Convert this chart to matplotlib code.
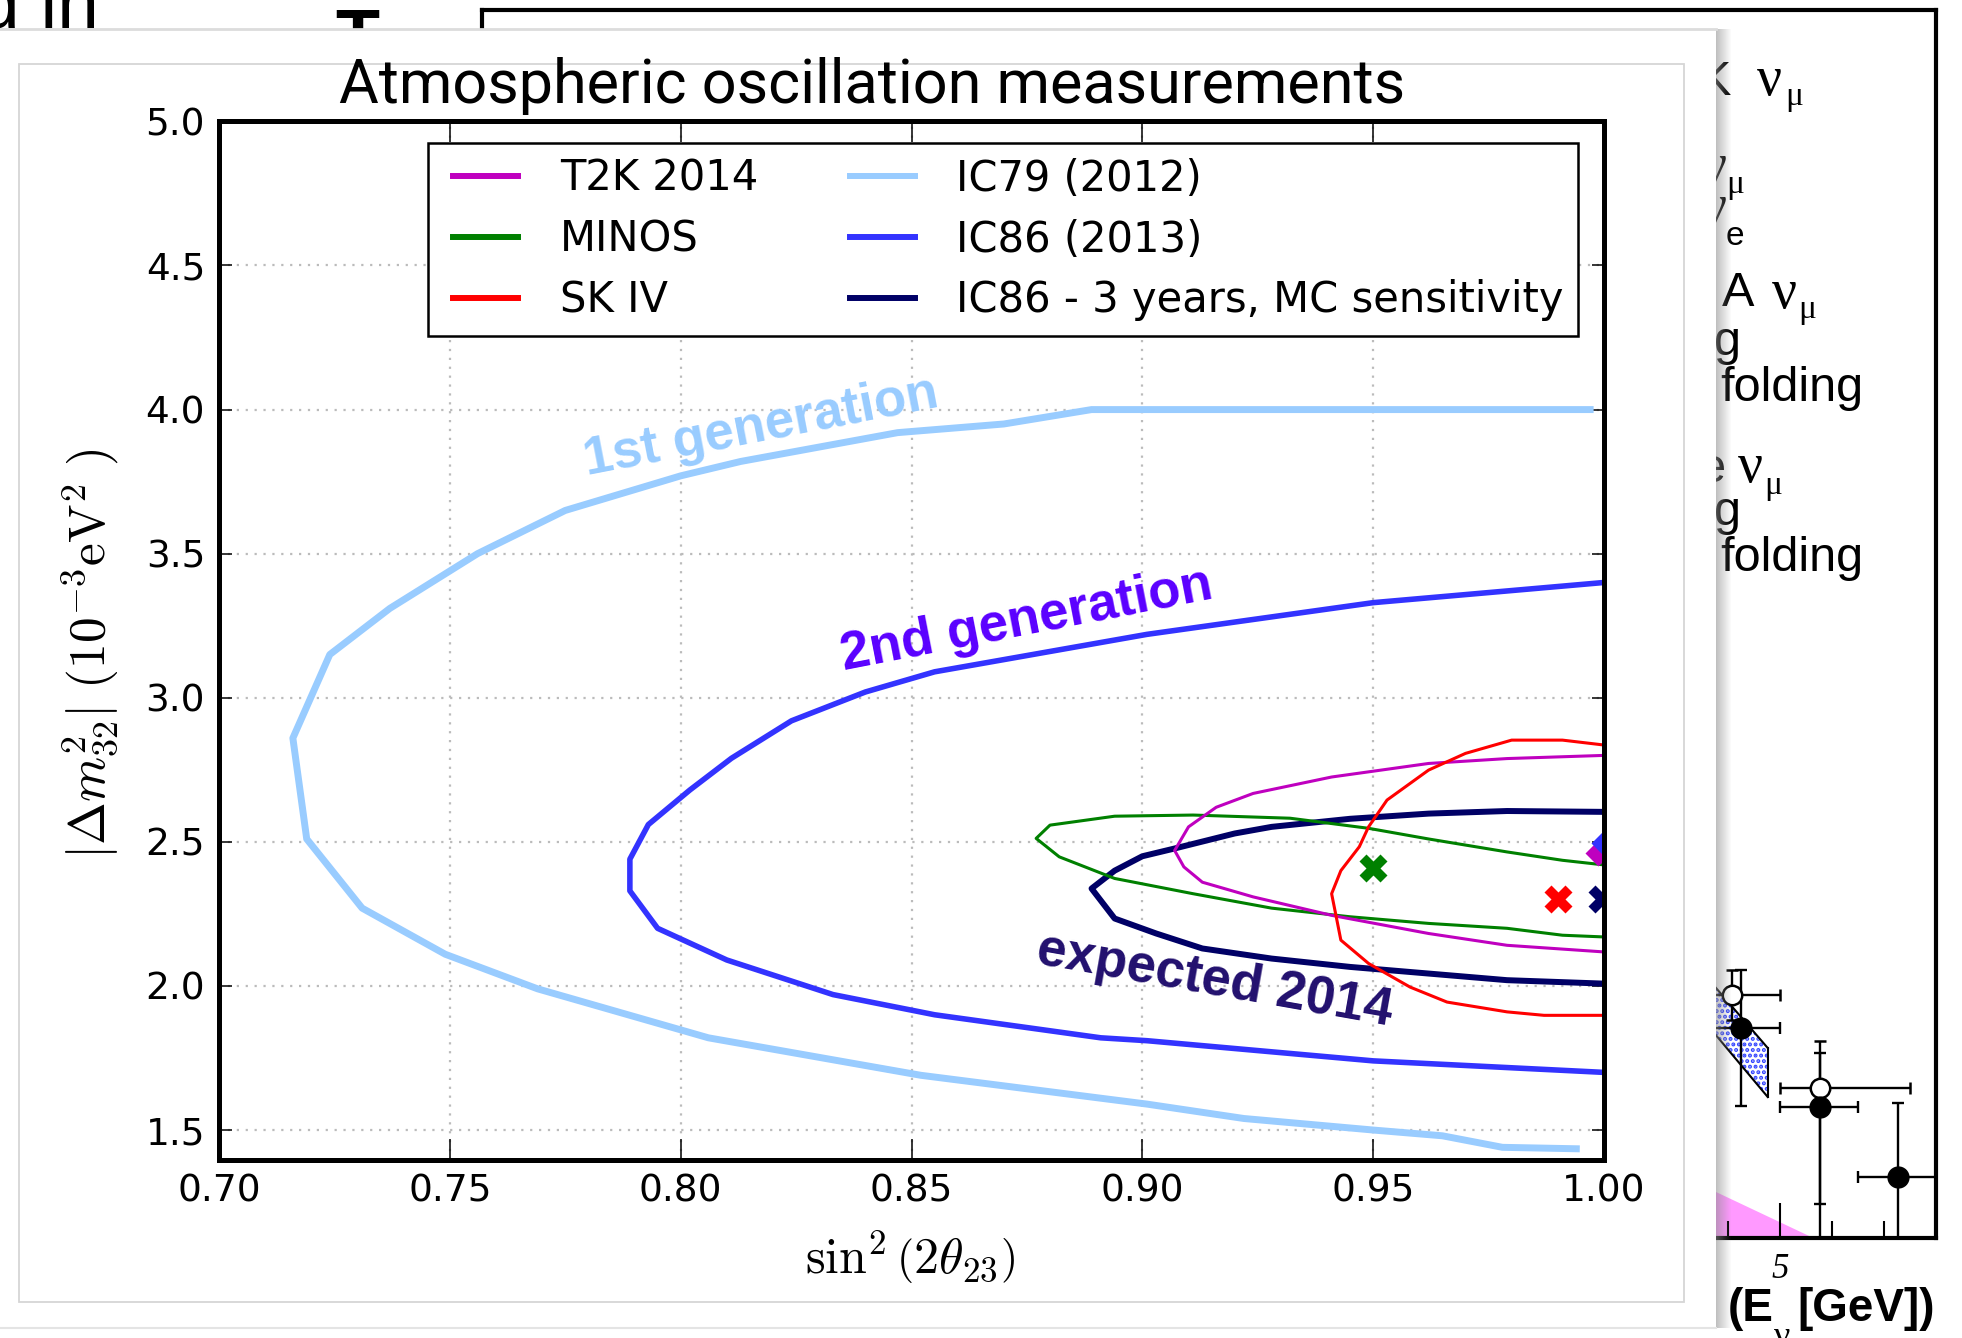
import numpy as np
import matplotlib
matplotlib.use('Agg')
import matplotlib.pyplot as plt
from matplotlib.lines import Line2D
from matplotlib.patches import Rectangle
from matplotlib.legend_handler import HandlerLine2D
from matplotlib.ticker import MultipleLocator, FormatStrFormatter, FuncFormatter

plt.rcParams['font.family'] = 'DejaVu Sans'
plt.rcParams['mathtext.fontset'] = 'cm'
plt.rcParams['hatch.linewidth'] = 2.0

W, H = 1962, 1338          # canvas size in pixels (dpi 100)

# ── allowed regions: x = sin^2(2 theta_23), y = |dm^2_32| [1e-3 eV^2] ──
ic79_x = [0.997, 0.889, 0.870, 0.847, 0.813, 0.800, 0.775, 0.756, 0.737, 0.724,
          0.716, 0.719, 0.731, 0.749, 0.769, 0.806, 0.852, 0.901, 0.922, 0.950,
          0.965, 0.978, 0.994]
ic79_y = [4.00, 4.00, 3.95, 3.92, 3.82, 3.77, 3.65, 3.50, 3.31, 3.15,
          2.86, 2.51, 2.27, 2.11, 1.99, 1.82, 1.69, 1.59, 1.54, 1.50,
          1.48, 1.44, 1.435]

ic86_x = [1.000, 0.950, 0.901, 0.855, 0.840, 0.824, 0.811, 0.802, 0.793, 0.789,
          0.789, 0.789, 0.795, 0.810, 0.833, 0.855, 0.891, 0.901, 0.950, 1.000]
ic86_y = [3.40, 3.33, 3.22, 3.09, 3.02, 2.92, 2.79, 2.68, 2.56, 2.44,
          2.39, 2.33, 2.20, 2.09, 1.97, 1.90, 1.82, 1.81, 1.74, 1.70]

ic3yr_x = [1.000, 0.979, 0.962, 0.945, 0.928, 0.920, 0.907, 0.900, 0.894, 0.889,
           0.894, 0.903, 0.913, 0.928, 0.945, 0.962, 0.979, 1.000]
ic3yr_y = [2.604, 2.607, 2.598, 2.580, 2.552, 2.529, 2.477, 2.450, 2.400, 2.338,
           2.234, 2.182, 2.130, 2.095, 2.066, 2.043, 2.020, 2.008]

t2k_x = [1.000, 0.979, 0.962, 0.941, 0.924, 0.916, 0.910, 0.907, 0.909, 0.913,
         0.924, 0.941, 0.962, 0.979, 1.000]
t2k_y = [2.800, 2.789, 2.772, 2.725, 2.668, 2.620, 2.552, 2.470, 2.413, 2.360,
         2.309, 2.245, 2.182, 2.141, 2.118]

minos_x = [1.000, 0.991, 0.979, 0.962, 0.949, 0.932, 0.911, 0.894, 0.880, 0.877,
           0.882, 0.894, 0.911, 0.928, 0.945, 0.962, 0.979, 0.991, 1.000]
minos_y = [2.420, 2.436, 2.465, 2.510, 2.547, 2.582, 2.593, 2.589, 2.558, 2.512,
           2.448, 2.373, 2.320, 2.270, 2.240, 2.217, 2.200, 2.176, 2.170]

sk_x = [1.000, 0.991, 0.980, 0.970, 0.962, 0.953, 0.949, 0.947, 0.943, 0.941,
        0.942, 0.943, 0.949, 0.958, 0.966, 0.979, 0.987, 1.000]
sk_y = [2.836, 2.853, 2.853, 2.807, 2.749, 2.645, 2.552, 2.483, 2.400, 2.320,
        2.240, 2.159, 2.078, 1.996, 1.944, 1.910, 1.898, 1.898]

# best-fit points
minos_bf = (0.950, 2.41)
sk_bf = (0.990, 2.30)
ic3yr_bf = (0.9995, 2.30)
t2k_bf = (0.9987, 2.46)
ic86_bf = (1.000, 2.495)

legend_labels = ['T2K 2014', 'MINOS', 'SK IV',
                 'IC79 (2012)', 'IC86 (2013)', 'IC86 - 3 years, MC sensitivity']
legend_colors = ['#bf00bf', 'green', 'red', '#99ccff', '#3333ff', '#000066']

# ── energy spectrum panel behind (x in GeV-ish units, y arbitrary) ──
ev_open_x = [4.08, 5.76]
ev_open_y = [2.43, 1.50]
ev_open_xerr = [[0.92, 0.76], [0.92, 1.73]]
ev_open_yerr = [[0.25, 1.60], [0.25, 0.47]]

ev_fill_x = [4.24, 5.76, 7.26]
ev_fill_y = [2.10, 1.31, 0.61]
ev_fill_xerr = [[0.76, 0.76, 0.76], [0.76, 0.74, 0.76]]
ev_fill_yerr = [[0.78, 0.97, 0.74], [0.58, 0.54, 0.74]]

band_x = [3.0, 4.76]
band_hi = [2.96, 1.90]
band_lo = [2.50, 1.41]

pink_x = [3.0, 5.65]
pink_y = [0.65, 0.0]


def fig_xy(fx, fy):
    return fx / W, 1 - fy / H


class InsetLine(HandlerLine2D):
    """Legend line that leaves a small gap at the left of the handle box."""
    def get_xdata(self, legend, xdescent, ydescent, width, height, fontsize):
        x0 = -xdescent + 0.25 * fontsize
        return np.array([x0, -xdescent + width]), np.array([x0 + 0.5 * width])


fig = plt.figure(figsize=(W / 100, H / 100), dpi=100)

# ── background spectrum panel ──
ax_ev = fig.add_axes([482 / W, 1 - 1238 / H, 1454 / W, 1228 / H], zorder=1)
ax_ev.fill_between(pink_x, 0, pink_y, color='#ff99ff', lw=0)
ax_ev.fill_between(band_x, band_lo, band_hi, facecolor='white',
                   edgecolor='#3344ff', hatch='...', lw=0)
ax_ev.plot(band_x, band_hi, color='black', lw=1.5)
ax_ev.plot(band_x, band_lo, color='black', lw=1.5)
ax_ev.plot([band_x[1], band_x[1]], [band_lo[1], band_hi[1]], color='black', lw=1.5)
ax_ev.errorbar(ev_open_x, ev_open_y, xerr=ev_open_xerr, yerr=ev_open_yerr,
               fmt='o', mfc='white', mec='black', mew=1.8, ms=14,
               ecolor='black', elinewidth=1.7, capsize=4, capthick=1.7)
ax_ev.errorbar(ev_fill_x, ev_fill_y, xerr=ev_fill_xerr, yerr=ev_fill_yerr,
               fmt='o', color='black', ms=15,
               ecolor='black', elinewidth=1.7, capsize=4, capthick=1.7)
ax_ev.set_xlim(-20, 8)
ax_ev.set_ylim(0, 12.28)
for s in ax_ev.spines.values():
    s.set_linewidth(3.0)
ax_ev.xaxis.set_major_locator(MultipleLocator(5))
ax_ev.xaxis.set_minor_locator(MultipleLocator(1))
ax_ev.xaxis.set_major_formatter(FuncFormatter(lambda v, p: f'{v:.0f}'))
ax_ev.tick_params(axis='x', which='major', direction='in', length=25, width=1.5,
                  pad=11, labelsize=25)
ax_ev.tick_params(axis='x', which='minor', direction='in', length=12, width=1.5)
ax_ev.tick_params(axis='y', left=False, labelleft=False)
for lab in ax_ev.get_xticklabels():
    lab.set_family('Liberation Serif')
    lab.set_style('italic')

# legend lines of the spectrum panel (mostly hidden by the slide on top)
sans, serif = 'Liberation Sans', 'Liberation Serif'
bg_texts = [('K', 1699, 95, 35, sans, 'normal'), ('ν', 1757, 95, 40, serif, 'normal'),
            ('μ', 1785, 105, 24, serif, 'normal'),
            ('ν', 1702, 182, 40, serif, 'normal'), ('μ', 1726, 193, 24, serif, 'normal'),
            ('ν', 1702, 223, 40, serif, 'normal'), ('e', 1726, 245, 24, sans, 'normal'),
            ('A', 1722, 306, 35, sans, 'normal'), ('ν', 1772, 308, 40, serif, 'normal'),
            ('μ', 1798, 318, 24, serif, 'normal'),
            ('g', 1714, 355, 35, sans, 'normal'), ('folding', 1720, 401, 35, sans, 'normal'),
            ('e', 1699, 482, 35, sans, 'normal'), ('ν', 1738, 482, 40, serif, 'normal'),
            ('μ', 1764, 494, 24, serif, 'normal'),
            ('g', 1714, 525, 35, sans, 'normal'), ('folding', 1720, 571, 35, sans, 'normal'),
            ('(E', 1728, 1321, 33, sans, 'bold'), ('ν', 1774, 1346, 26, serif, 'normal'),
            ('d in', -22, 27, 54, sans, 'normal'), ('T', 335, 60, 52, sans, 'bold')]
for s, fx, fy, size, fam, wt in bg_texts:
    ax_ev.text(*fig_xy(fx, fy), s, family=fam, fontsize=size, weight=wt,
               color='black', va='baseline', transform=fig.transFigure)
ax_ev.text(*fig_xy(1935, 1321), '[GeV])', family=sans, weight='bold',
           fontsize=33, ha='right', va='baseline', transform=fig.transFigure)

# ── slide image laid over it ──
ax_over = fig.add_axes([0, 0, 1, 1], zorder=2)
ax_over.add_patch(Rectangle((0, 29), 1716, 1299, facecolor='white', edgecolor='none'))
ax_over.plot([0, 1716], [29, 29], color='#dcdcdc', lw=2)
ax_over.plot([0, 1716], [1328, 1328], color='#e4e4e4', lw=1.5)
shade = np.zeros((1, 16, 4))
shade[..., :3] = 0.55
shade[..., 3] = np.linspace(0.55, 0.0, 16)
ax_over.imshow(shade, extent=[1716, 1732, 1328, 29], aspect='auto',
               interpolation='bilinear')
ax_over.add_patch(Rectangle((19, 64), 1665, 1238, facecolor='white',
                            edgecolor='#d6d6d6', lw=1.3))
ax_over.set_xlim(0, W)
ax_over.set_ylim(H, 0)
ax_over.axis('off')

# ── main oscillation plot ──
ax = fig.add_axes([219 / W, 1 - 1160 / H, 1385 / W, 1038.6 / H], zorder=3)
ax.plot(ic79_x, ic79_y, color=legend_colors[3], lw=5.0)
ax.plot(ic86_x, ic86_y, color=legend_colors[4], lw=4.0)
ax.plot(ic3yr_x, ic3yr_y, color=legend_colors[5], lw=4.3)
ax.plot(minos_x, minos_y, color=legend_colors[1], lw=2.2)
ax.plot(t2k_x, t2k_y, color=legend_colors[0], lw=2.2)
ax.plot(sk_x, sk_y, color=legend_colors[2], lw=2.2)

ax.plot(*minos_bf, 'X', color=legend_colors[1], ms=20, mec='none')
ax.plot(*sk_bf, 'X', color=legend_colors[2], ms=20, mec='none')
ax.plot(*ic3yr_bf, 'X', color=legend_colors[5], ms=20, mec='none')
ax.plot(*t2k_bf, 'D', color=legend_colors[0], ms=13, mec='none')
ax.plot(*ic86_bf, 'D', color=legend_colors[4], ms=13, mec='none')

note = dict(fontsize=38, family=sans, weight='bold', ha='center', va='center',
            rotation_mode='anchor')
ax.text(0.8173, 3.94, '1st generation', rotation=11, color='#99ccff', **note)
ax.text(0.875, 3.27, '2nd generation', rotation=11, color='#5a00ff', **note)
ax.text(0.9157, 2.017, 'expected 2014', rotation=-10, color='#22106e', **note)

ax.set_xlim(0.70, 1.00)
ax.set_ylim(1.396, 5.0)
ax.xaxis.set_major_locator(MultipleLocator(0.05))
ax.yaxis.set_major_locator(MultipleLocator(0.5))
ax.xaxis.set_major_formatter(FormatStrFormatter('%.2f'))
ax.yaxis.set_major_formatter(FormatStrFormatter('%.1f'))
ax.grid(True, color='#bbbbbb', linestyle=(0, (1, 3)), lw=1.6)
ax.set_axisbelow(True)
for s in ax.spines.values():
    s.set_linewidth(3.6)
ax.tick_params(axis='both', direction='in', top=True, right=True,
               labelsize=27, pad=10, width=1.1)
ax.tick_params(axis='x', length=15)
ax.tick_params(axis='y', length=9)

ax.set_xlabel(r'$\sin^2\left(2\theta_{23}\right)$', fontsize=36)
ax.xaxis.set_label_coords(0.499, -0.066)
ax.set_ylabel(r'$|\Delta m^2_{32}|\ (10^{-3}\mathrm{eV}^2\ )$', fontsize=37)
ax.yaxis.set_label_coords(-0.071, 0.487)

handles = [Line2D([], [], color=c, lw=4.3) for c in legend_colors]
leg = ax.legend(handles, legend_labels, ncol=2, loc='upper left',
                bbox_to_anchor=(0.151, 0.979), borderaxespad=0, fontsize=30,
                handlelength=1.81, handletextpad=1.0, columnspacing=1.95,
                labelspacing=0.45, borderpad=0.35, fancybox=False, framealpha=1,
                handler_map={Line2D: InsetLine()})
leg.get_frame().set_edgecolor('black')
leg.get_frame().set_linewidth(1.8)

fig.text(872 / W, 1 - 103 / H, 'Atmospheric oscillation measurements',
         ha='center', va='baseline', fontsize=44, family='Roboto',
         weight='normal', zorder=5)

fig.savefig('out.png', dpi=100)
